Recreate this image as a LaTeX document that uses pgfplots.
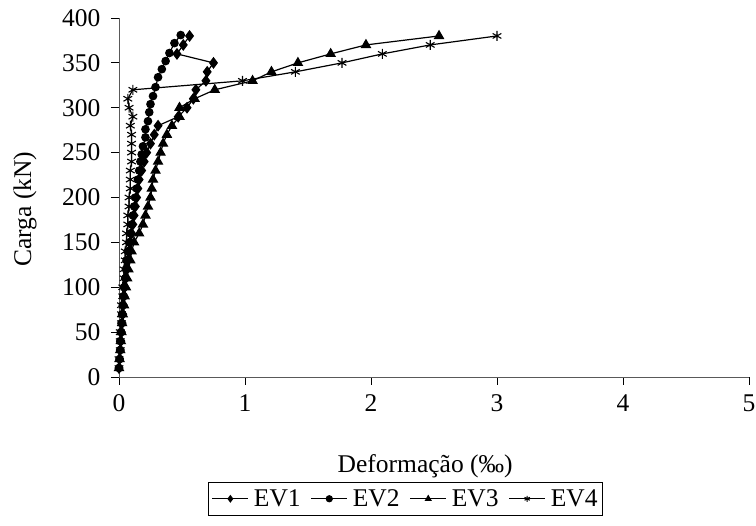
\documentclass[border=0pt]{standalone}
\usepackage{fontspec}
\setmainfont{Liberation Serif}
\usepackage{pgfplots}
\pgfplotsset{compat=1.18}
\begin{document}
\begin{tikzpicture}[font=\fontsize{25.5}{30}\selectfont]
\begin{axis}[
  scale only axis, width=630pt, height=359pt,
  xmin=0, xmax=5, ymin=0, ymax=400,
  xtick={0,1,2,3,4,5}, ytick={0,50,...,400},
  axis x line*=bottom, axis y line*=left,
  axis line style={gray!70!black, line width=0.8pt},
  tick style={black, line width=0.8pt},
  tick align=outside, major tick length=8pt,
  /pgf/number format/assume math mode=true,
  tick label style={font=\fontsize{25.5}{30}\selectfont},
  yticklabel style={xshift=-7pt},
  xticklabel style={yshift=-6pt},
  label style={font=\fontsize{25.5}{30}\selectfont},
  xlabel={Deformação (‰)},
  ylabel={Carga (kN)},
  xlabel style={at={(axis description cs:0.486,-0.248)}, anchor=center},
  ylabel style={at={(axis description cs:-0.149,0.468)}, anchor=center},
  legend columns=4,
  legend style={at={(axis description cs:0.455,-0.293)}, anchor=north, draw=black, line width=0.8pt,
    font=\fontsize{25.5}{30}\selectfont, inner xsep=3pt, inner ysep=5pt,
    /tikz/every odd column/.append style={column sep=3pt},
    /tikz/every even column/.append style={column sep=8pt}},
  legend image code/.code={\draw[mark repeat=2,mark phase=2, mark size=3pt] plot coordinates {(0pt,0pt) (18pt,0pt) (36pt,0pt)};},
  every axis plot/.append style={black, line width=1.2pt},
]
\coordinate (O) at (rel axis cs:0,0);
\addplot[mark=diamond*, mark size=5pt] coordinates {
(0,10)(0.005,20)(0.01,30)(0.015,40)(0.02,50)(0.025,60)(0.03,70)(0.035,80)(0.04,90)(0.045,100)
(0.05,110)(0.06,120)(0.07,130)(0.08,140)(0.09,150)(0.10,160)(0.11,170)(0.12,180)(0.13,190)(0.14,200)
(0.15,210)(0.16,220)(0.18,230)(0.20,240)(0.22,250)(0.25,260)(0.28,270)(0.31,280)(0.47,290)(0.54,300)
(0.59,310)(0.61,320)(0.69,330)(0.70,340)(0.75,350)(0.46,360)(0.51,370)(0.56,380)};
\addlegendentry{EV1}
\addplot[mark=*, mark size=3.7pt] coordinates {
(0,10)(0.005,20)(0.01,30)(0.01,40)(0.015,50)(0.02,60)(0.025,70)(0.03,80)(0.035,90)(0.04,100)
(0.05,110)(0.055,120)(0.06,130)(0.07,140)(0.08,150)(0.09,160)(0.10,170)(0.11,180)(0.12,190)(0.13,200)
(0.14,210)(0.15,220)(0.16,230)(0.17,240)(0.18,248)(0.19,257)(0.21,267)(0.21,276)(0.23,285)(0.24,295)
(0.25,304)(0.27,313)(0.29,323)(0.31,334)(0.34,343)(0.37,352)(0.40,361)(0.44,372)(0.49,381)};
\addlegendentry{EV2}
\addplot[mark=triangle*, mark size=5pt] coordinates {
(0,10)(0.005,20)(0.01,30)(0.015,40)(0.02,50)(0.025,60)(0.03,70)(0.04,80)(0.045,90)(0.055,100)
(0.065,110)(0.075,120)(0.09,130)(0.10,140)(0.12,150)(0.16,160)(0.19,170)(0.21,180)(0.23,190)(0.25,200)
(0.26,210)(0.27,220)(0.29,230)(0.31,240)(0.33,250)(0.35,260)(0.38,270)(0.42,280)(0.48,290)(0.48,300)
(0.60,310)(0.76,320)(1.06,330)(1.21,340)(1.42,350)(1.68,360)(1.96,370)(2.54,380)};
\addlegendentry{EV3}
\addplot[mark=asterisk, mark size=5pt, mark options={line width=1.1pt}] coordinates {
(0,10)(0,20)(0.01,30)(0.01,40)(0.01,50)(0.02,60)(0.02,70)(0.02,80)(0.03,90)(0.03,100)
(0.04,110)(0.04,120)(0.05,130)(0.05,140)(0.06,150)(0.06,160)(0.07,170)(0.07,180)(0.08,190)(0.08,200)
(0.09,210)(0.09,220)(0.09,230)(0.10,240)(0.10,250)(0.10,260)(0.10,270)(0.09,280)(0.11,290)(0.08,300)
(0.07,310)(0.11,320)(0.98,330)(1.40,340)(1.77,350)(2.09,360)(2.47,370)(3.00,380)};
\addlegendentry{EV4}
\end{axis}
\pgfresetboundingbox
\path[use as bounding box] ([shift={(-119pt,-149pt)}]O) rectangle ([shift={(637pt,377pt)}]O);
\end{tikzpicture}
\end{document}
